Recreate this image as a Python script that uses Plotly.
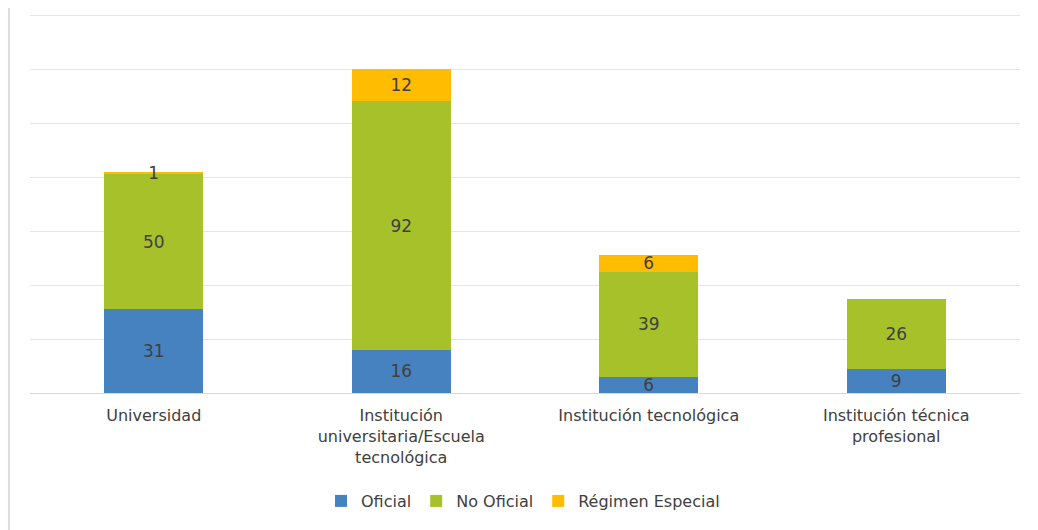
import plotly.graph_objects as go

categories = ["Universidad", "Institución<br>universitaria/Escuela<br>tecnológica",
              "Institución tecnológica", "Institución técnica<br>profesional"]
oficial = [31, 16, 6, 9]
no_oficial = [50, 92, 39, 26]
regimen = [1, 12, 6, None]

series = [
    ("Oficial", oficial, "#4682C0"),
    ("No Oficial", no_oficial, "#A7C12B"),
    ("Régimen Especial", regimen, "#FFBC00"),
]

FONT = "DejaVu Sans, Verdana, sans-serif"

fig = go.Figure()
for name, vals, color in series:
    fig.add_trace(go.Bar(
        name=name, x=categories, y=vals, marker_color=color, marker_line_width=0,
        text=[("" if v is None else str(v)) for v in vals],
        textposition="inside", insidetextanchor="middle", constraintext="none",
        textangle=0,
        textfont=dict(family=FONT, size=17, color="#404040"),
        width=0.4,
    ))

fig.update_layout(
    barmode="stack",
    width=1038, height=530,
    margin=dict(l=22, r=26, t=6, b=145),
    paper_bgcolor="white", plot_bgcolor="white",
    font=dict(family=FONT, size=16, color="#404040"),
    showlegend=True,
    legend=dict(orientation="h", x=0.498, xanchor="center", y=-0.285, yanchor="middle",
                font=dict(family=FONT, size=16, color="#404040"), itemwidth=30,
                traceorder="normal"),
    xaxis=dict(showgrid=False, showline=True, linecolor="#D9D9D9", linewidth=1,
               ticks="", ticklabelstandoff=8,
               tickfont=dict(family=FONT, size=16, color="#404040")),
    yaxis=dict(range=[0, 140.4], tickvals=[0, 20, 40, 60, 80, 100, 120, 140],
               showgrid=True, gridcolor="#E4E4E4",
               gridwidth=1, showticklabels=False, zeroline=False, showline=False),
    shapes=[dict(type="line", xref="paper", yref="paper",
                 x0=-0.0212, x1=-0.0212, y0=-0.4, y1=1.1,
                 line=dict(color="#DCDCE4", width=2))],
)

fig.write_html("out.html")
